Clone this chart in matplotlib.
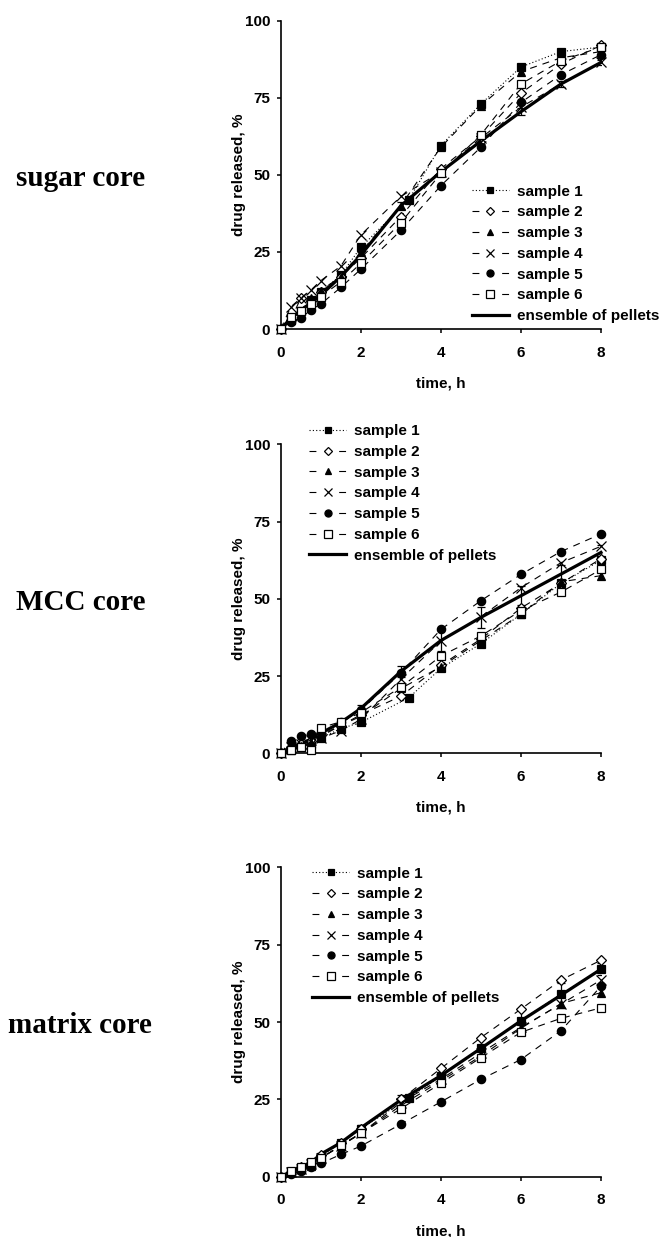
import numpy as np
import matplotlib
matplotlib.use('Agg')
import matplotlib.pyplot as plt
from matplotlib.lines import Line2D

plt.rcParams['font.family'] = ['Liberation Sans', 'DejaVu Sans']
plt.rcParams['font.weight'] = 'bold'
plt.rcParams['font.size'] = 11

# --- data ---
t = [0, 0.25, 0.5, 0.75, 1, 1.5, 2, 3, 4, 5, 6, 7, 8]
t_s1 = [0, 0.25, 0.5, 0.75, 1, 1.5, 2, 3.2, 4, 5, 6, 7, 8]

panel_names = ['sugar core', 'MCC core', 'matrix core']
labels = ['sample 1', 'sample 2', 'sample 3', 'sample 4', 'sample 5', 'sample 6']

# sugar core
sugar_s1 = [0, 3, 6, 9.5, 12, 17.5, 26.5, 42, 59.5, 73, 85, 90, 91.5]
sugar_s2 = [0, 3, 10, 9, 12, 17, 23, 36.5, 52, 62.5, 76.5, 86, 92]
sugar_s3 = [0, 3, 6, 10, 12.5, 17, 25, 40, 59, 72.5, 83.5, 88, 90]
sugar_s4 = [0, 7.2, 10, 12.6, 15.7, 20.4, 30.5, 43, 51, 62, 72, 79.5, 86.5]
sugar_s5 = [0, 2.4, 3.5, 6.2, 8.1, 13.5, 19.4, 32, 46.5, 59, 73.5, 82.5, 89]
sugar_s6 = [0, 3.8, 5.9, 8.1, 10.5, 15.3, 21.3, 34.5, 50.5, 63, 79.5, 87, 91.5]
sugar_ens = [0, 3.5, 6, 8.5, 11, 17, 24, 40, 51, 61, 70.5, 79.5, 86.5]
sugar_err = [0, 0, 0, 0, 0.5, 0.8, 1, 1.2, 1, 1, 1.2, 1, 0.8]

# MCC core
mcc_s1 = [0, 1, 2, 3, 5, 8, 10, 18, 27.5, 35.5, 45, 55, 62.5]
mcc_s2 = [0, 2, 3, 4, 6, 9, 12.5, 18.5, 28.5, 37, 47, 55, 63]
mcc_s3 = [0, 1.5, 2.5, 3.5, 5.5, 9, 12, 21, 28, 36.5, 45, 55.5, 57.5]
mcc_s4 = [0, 2, 3, 4.3, 4.9, 7.3, 11, 24, 36.3, 44.2, 53.6, 61.7, 67]
mcc_s5 = [0, 4.1, 5.6, 6.3, 6.7, 10, 14, 26, 40.1, 49.4, 57.9, 65.3, 71]
mcc_s6 = [0, 1.1, 1.9, 1.1, 8.3, 10.2, 13.2, 21.4, 31.5, 38, 46.2, 52.2, 59.5]
mcc_ens = [0, 2, 3, 4.5, 6.5, 10, 14.5, 26.5, 36.5, 44, 51, 58, 65]
mcc_err = [0, 0, 0, 0, 0.5, 0.8, 1, 1.7, 3.5, 3.3, 3, 3, 2.5]

# matrix core
matrix_s1 = [0, 1.5, 2.5, 4, 6.5, 11, 15.5, 25.5, 32.5, 41.5, 50.5, 59, 67]
matrix_s2 = [0, 1.5, 3, 4.5, 7, 11, 15.5, 25, 35, 45, 54.2, 63.6, 70]
matrix_s3 = [0, 1.5, 2.5, 3.5, 6, 10, 14, 23, 31, 39, 48, 56, 59.5]
matrix_s4 = [0, 1.5, 2.5, 4, 6, 10, 14, 24, 31.5, 40, 48.3, 55.8, 63.6]
matrix_s5 = [0, 1, 2, 3, 4.3, 7.2, 9.9, 17, 24.2, 31.5, 37.9, 47.2, 61.6]
matrix_s6 = [0, 1.8, 3.2, 4.8, 6, 10.2, 14.1, 22, 30.2, 38.5, 46.7, 51.2, 54.6]
matrix_ens = [0, 1.5, 3, 4.5, 7.3, 11, 15.8, 24.8, 32.7, 41.5, 50.4, 58.7, 67.1]
matrix_err = [0, 0, 0, 0, 0.5, 0.8, 1, 1.5, 2, 3, 3.5, 4, 2]

samples = [
    [sugar_s1, sugar_s2, sugar_s3, sugar_s4, sugar_s5, sugar_s6],
    [mcc_s1, mcc_s2, mcc_s3, mcc_s4, mcc_s5, mcc_s6],
    [matrix_s1, matrix_s2, matrix_s3, matrix_s4, matrix_s5, matrix_s6],
]
ensembles = [sugar_ens, mcc_ens, matrix_ens]
errors = [sugar_err, mcc_err, matrix_err]

# --- styles ---
dotted = (0, (1, 2))
dash = (0, (6.3, 5.4))
leg_dash = (0, (6.2, 20.5))   # legend: dash - marker - dash, like the Excel legend
styles = [
    dict(marker='s', mfc='black', ms=5.5, ls=dotted, lls=dotted),
    dict(marker='D', mfc='white', ms=5, ls=dash, lls=leg_dash),
    dict(marker='^', mfc='black', ms=5.5, ls=dash, lls=leg_dash),
    dict(marker='x', mfc='black', ms=7, ls=dash, lls=leg_dash),
    dict(marker='o', mfc='black', ms=6, ls=dash, lls=leg_dash),
    dict(marker='s', mfc='white', ms=6, ls=dash, lls=leg_dash),
]

axes_pos = [
    [0.426, 0.7340, 0.486, 0.2492],
    [0.426, 0.3910, 0.486, 0.2498],
    [0.426, 0.0487, 0.486, 0.2501],
]
legend_anchor = [(0.596, 0.468), (0.088, 1.065), (0.097, 1.002)]

# legend proxies
leg_handles = []
for st in styles:
    leg_handles.append(Line2D([], [], color='black', lw=0.8, ls=st['lls'],
                              marker=st['marker'], ms=st['ms'] * 0.85,
                              mfc=st['mfc'], mec='black', mew=0.9))
leg_handles.append(Line2D([], [], color='black', lw=2.3))
leg_labels = labels + ['ensemble of pellets']

fig = plt.figure(figsize=(6.59, 12.37), dpi=100)

for i in range(3):
    ax = fig.add_axes(axes_pos[i])

    ax.plot(t, ensembles[i], color='black', lw=2.3, zorder=3, clip_on=False)
    ax.errorbar(t, ensembles[i], yerr=errors[i], fmt='none', ecolor='black',
                elinewidth=0.9, capsize=3, capthick=0.9, zorder=3)

    for j in range(6):
        tt = t_s1 if j == 0 else t
        st = styles[j]
        ax.plot(tt, samples[i][j], color='black', lw=0.8, ls=st['ls'],
                marker=st['marker'], ms=st['ms'], mfc=st['mfc'], mec='black',
                mew=0.9, zorder=4, clip_on=False)

    ax.set_xlim(0, 8)
    ax.set_ylim(0, 100)
    ax.set_xticks([0, 2, 4, 6, 8])
    ax.set_yticks([0, 25, 50, 75, 100])
    ax.spines['top'].set_visible(False)
    ax.spines['right'].set_visible(False)
    ax.spines['left'].set_linewidth(1.2)
    ax.spines['bottom'].set_linewidth(1.2)
    ax.tick_params(axis='x', length=3, width=1.1, pad=9)
    ax.tick_params(axis='y', length=3, width=1.1, pad=4.5)
    ax.set_xlabel('time, h', fontweight='bold', labelpad=12)
    ax.set_ylabel('drug released, %', fontweight='bold', labelpad=-1)

    ax.legend(leg_handles, leg_labels, loc='upper left',
              bbox_to_anchor=legend_anchor[i], frameon=False, borderpad=0,
              borderaxespad=0, handlelength=2.45, handletextpad=0.5,
              labelspacing=0.44, fontsize=11)

    yc = axes_pos[i][1] + axes_pos[i][3] / 2
    fig.text(0.122, yc - 0.003, panel_names[i], ha='center', va='center',
             family='Liberation Serif', fontweight='bold', fontsize=21)

plt.savefig('out.png', dpi=100)
